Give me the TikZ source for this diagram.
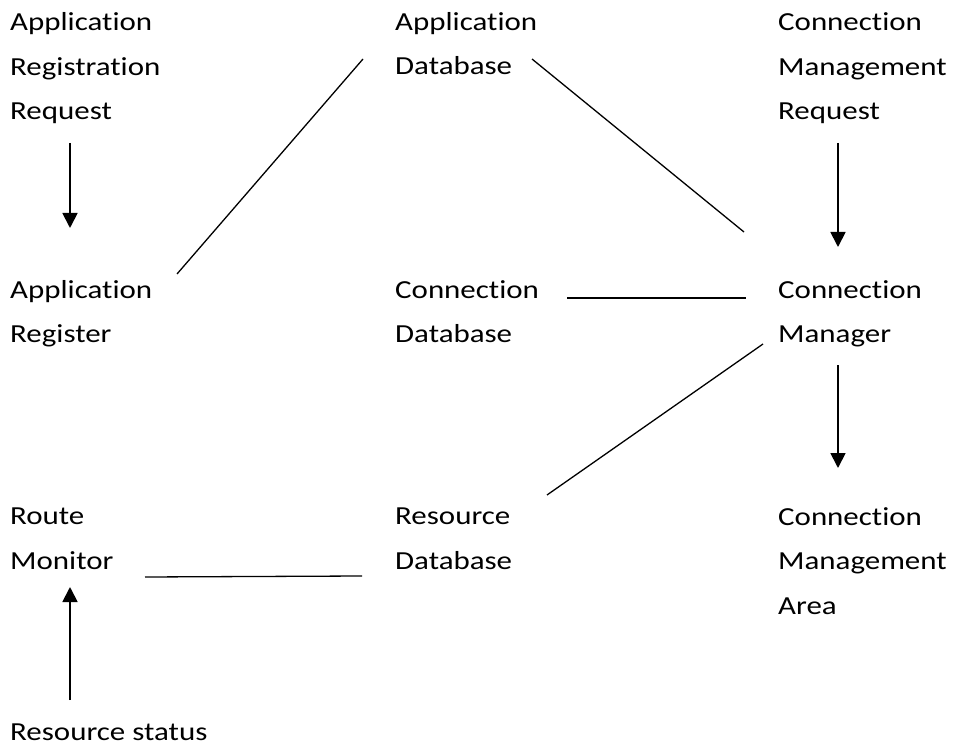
\documentclass[tikz,border=0pt]{standalone}
\usepackage{fontspec}
\setmainfont{Carlito}[FakeStretch=1.19,Ligatures={NoCommon,NoRare,NoContextual}]
\usetikzlibrary{calc,arrows.meta}
\newcommand{\fs}{\fontsize{26pt}{44.5pt}\selectfont}
\begin{document}
\begin{tikzpicture}[x=1pt,y=-1pt,
  txt/.style={anchor=base west, align=left, inner sep=0pt, font=\fs},
  link/.style={line width=1.3pt},
  arrowline/.style={line width=1.8pt, -{Triangle[width=15pt,length=15pt]}}]
\useasboundingbox (0,0) rectangle (954,754);
% each node is placed by the baseline of its last line
\node[txt] (arr) at (10,120) {Application\\Registration\\Request};
\node[txt] (adb) at (395,75) {Application\\Database};
\node[txt] (cmr) at (778,120) {Connection\\Management\\Request};
\node[txt] (areg) at (10,343) {Application\\Register};
\node[txt] (cdb) at (395,343) {Connection\\Database};
\node[txt] (cm) at (778,343) {Connection\\Manager};
\node[txt] (rm) at (10,569) {Route\\Monitor};
\node[txt] (rdb) at (395,569) {Resource\\Database};
\node[txt] (cma) at (778,614) {Connection\\Management\\Area};
\node[txt] (rs) at (10,740) {Resource status};
% arrows
\draw[arrowline] ($(arr.base west)+(60,23)$) -- ($(areg.base west)+(60,-115)$);
\draw[arrowline] ($(cmr.base west)+(60,23)$) -- ($(cm.base west)+(60,-96)$);
\draw[arrowline] ($(cm.base west)+(60,22)$) -- ($(cma.base west)+(60,-146)$);
\draw[arrowline] ($(rs.base west)+(60,-40)$) -- ($(rm.base west)+(60,18)$);
% lines
\draw[link] ($(areg.base west)+(167,-69)$) -- ($(adb.base west)+(-32,-16)$);
\draw[link] ($(adb.base west)+(137,-16)$) -- ($(cm.base west)+(-34,-111)$);
\draw[link] ($(cdb.base west)+(172,-45)$) -- ($(cm.base west)+(-32,-45)$);
\draw[link] ($(rdb.base west)+(152,-74)$) -- ($(cm.base west)+(-15,1)$);
\draw[link] ($(rm.base west)+(135,8)$) -- ($(rdb.base west)+(-33,7)$);
\end{tikzpicture}
\end{document}
